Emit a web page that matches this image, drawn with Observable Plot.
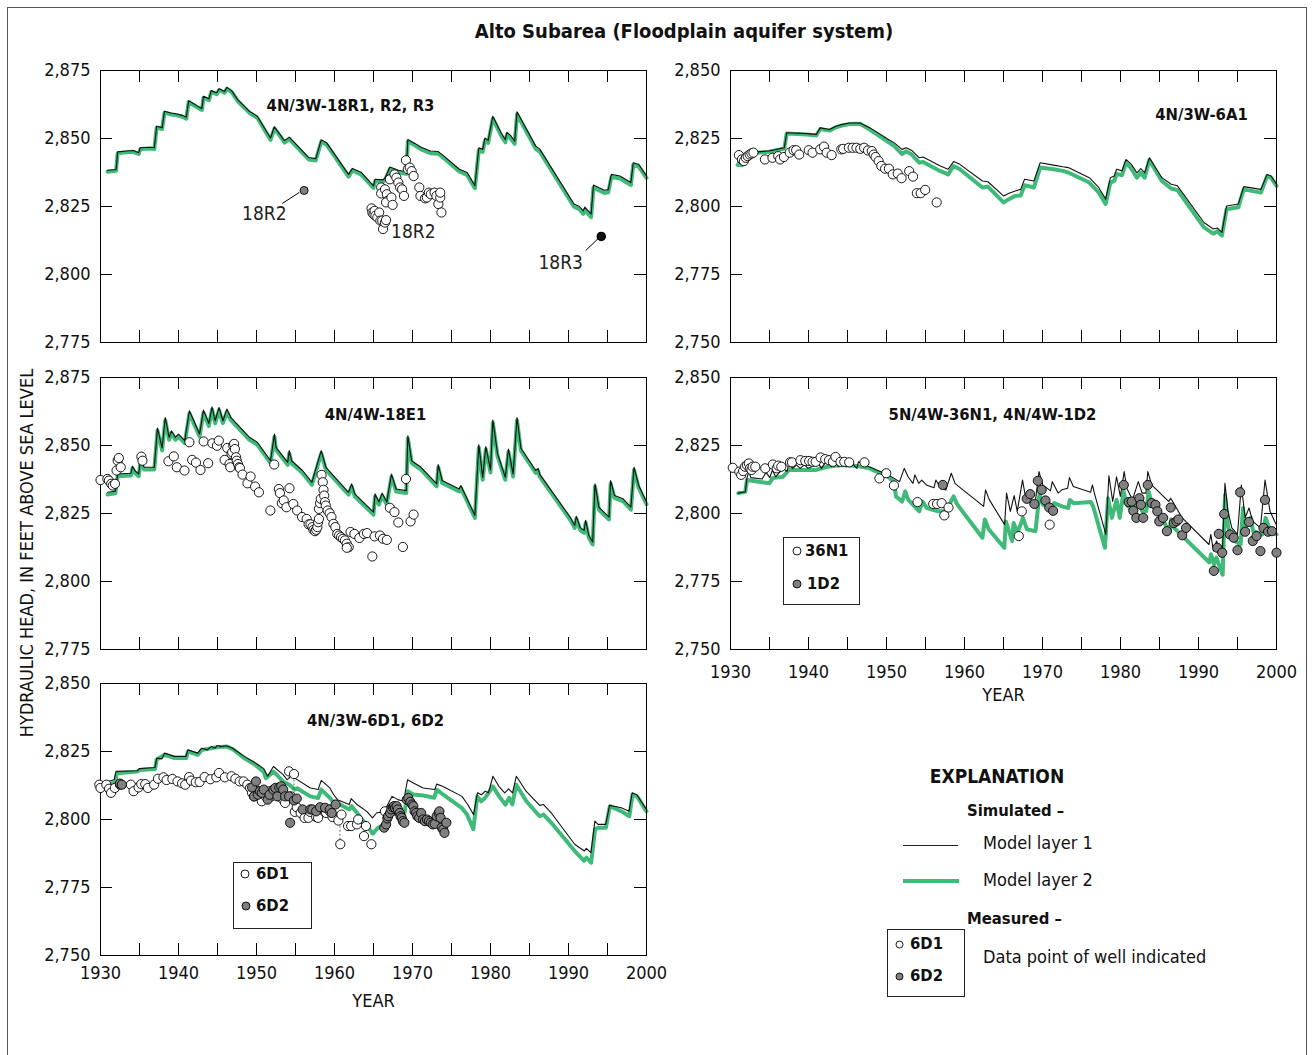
<!DOCTYPE html>
<html><head><meta charset="utf-8">
<script src="https://cdn.jsdelivr.net/npm/d3@7"></script>
<script src="https://cdn.jsdelivr.net/npm/@observablehq/plot@0.6"></script>
<style>
body{margin:0;background:#fff;}
#fig{position:relative;width:1312px;height:1055px;overflow:hidden;background:#fff;}
.abs{position:absolute;white-space:nowrap;line-height:1;}
svg{overflow:visible;}
</style></head><body><div id="fig"></div><script>
const FONT = '"Liberation Sans Narrow","Arial Narrow","DejaVu Sans Condensed",sans-serif';
const GREEN = "#3fba78";
const GRAYFILL = "#808080";

// ---------- axis ticks ----------
const xMajorTicks = [1930,1935,1940,1945,1950,1955,1960,1965,1970,1975,1980,1985,1990,1995,2000];
const xTickLabels = [1930,1940,1950,1960,1970,1980,1990,2000];
const yTicksHigh = [2775,2800,2825,2850,2875];
const yTicksLow = [2750,2775,2800,2825,2850];

// ---------- panel 1: 4N/3W-18R1, R2, R3 ----------
const p1Layer1 = [[1930.9,2838.3],[1932.0,2838.6],[1932.2,2845.1],[1933.3,2845.4],[1934.2,2845.6],[1934.9,2844.8],[1935.1,2846.6],[1936.4,2846.8],[1936.9,2846.6],[1937.2,2854.5],[1937.9,2854.0],[1938.2,2860.0],[1939.0,2859.4],[1939.8,2859.0],[1940.5,2858.5],[1941.0,2857.8],[1941.3,2863.9],[1942.5,2861.8],[1943.0,2861.0],[1943.2,2865.5],[1943.9,2864.6],[1944.2,2867.6],[1944.9,2866.8],[1945.2,2868.3],[1945.9,2867.3],[1946.2,2868.8],[1946.8,2867.6],[1947.6,2864.3],[1949.1,2860.0],[1950.1,2858.2],[1951.8,2850.2],[1952.3,2854.3],[1953.6,2849.2],[1954.2,2850.5],[1956.7,2843.0],[1957.6,2842.6],[1958.3,2849.5],[1959.0,2848.4],[1961.8,2836.8],[1962.3,2839.0],[1963.4,2837.6],[1965.0,2832.6],[1965.2,2835.0],[1966.2,2834.8],[1966.5,2835.6],[1967.1,2839.5],[1968.2,2838.3],[1969.2,2837.8],[1969.4,2849.6],[1970.3,2848.2],[1971.1,2846.8],[1972.3,2845.4],[1973.3,2845.2],[1974.0,2843.6],[1976.0,2838.7],[1977.0,2837.5],[1978.0,2832.6],[1978.5,2846.6],[1979.0,2846.0],[1979.3,2850.2],[1979.7,2849.3],[1980.3,2858.2],[1981.3,2852.4],[1981.9,2849.6],[1982.1,2852.3],[1982.6,2851.0],[1983.1,2849.0],[1983.4,2859.8],[1985.8,2847.2],[1986.3,2846.2],[1990.7,2825.9],[1991.4,2825.0],[1991.9,2823.4],[1992.1,2824.8],[1992.9,2822.2],[1993.2,2832.9],[1994.6,2831.0],[1995.1,2831.2],[1995.5,2836.8],[1996.6,2836.2],[1998.0,2833.8],[1998.3,2841.1],[1999.0,2840.5],[2000,2836.2]];
const p1Layer2 = [[1930.9,2837.8],[1932.0,2838.1],[1932.2,2844.6],[1933.3,2844.9],[1934.2,2845.1],[1934.9,2844.3],[1935.1,2846.1],[1936.4,2846.3],[1936.9,2846.1],[1937.2,2854.0],[1937.9,2853.5],[1938.2,2859.5],[1939.0,2858.9],[1939.8,2858.5],[1940.5,2858.0],[1941.0,2857.3],[1941.3,2863.4],[1942.5,2861.3],[1943.0,2860.5],[1943.2,2865.0],[1943.9,2864.1],[1944.2,2867.1],[1944.9,2866.3],[1945.2,2867.8],[1945.9,2866.8],[1946.2,2868.3],[1946.8,2867.1],[1947.6,2863.7],[1949.1,2859.4],[1950.1,2857.6],[1951.8,2849.5],[1952.3,2853.7],[1953.6,2848.5],[1954.2,2849.8],[1956.7,2842.3],[1957.6,2841.9],[1958.3,2848.9],[1959.0,2847.7],[1961.8,2836.0],[1962.3,2838.3],[1963.4,2836.8],[1965.0,2831.8],[1965.2,2834.3],[1966.2,2834.0],[1966.5,2834.8],[1967.1,2838.8],[1968.2,2837.5],[1969.2,2837.0],[1969.4,2848.9],[1970.3,2847.5],[1971.1,2846.0],[1972.3,2844.6],[1973.3,2844.4],[1974.0,2842.8],[1976.0,2837.9],[1977.0,2836.6],[1978.0,2831.7],[1978.5,2845.7],[1979.0,2845.1],[1979.3,2849.3],[1979.7,2848.4],[1980.3,2857.3],[1981.3,2851.4],[1981.9,2848.6],[1982.1,2851.4],[1982.6,2850.0],[1983.1,2848.0],[1983.4,2858.9],[1985.8,2846.2],[1986.3,2845.2],[1990.7,2824.9],[1991.4,2824.0],[1991.9,2822.3],[1992.1,2823.8],[1992.9,2821.1],[1993.2,2831.9],[1994.6,2830.0],[1995.1,2830.2],[1995.5,2835.9],[1996.6,2835.3],[1998.0,2832.9],[1998.3,2840.3],[1999.0,2839.7],[2000,2835.5]];
const p1Open18R2 = [[1964.75,2824.3],[1964.85,2822.8],[1965.0,2822.2],[1965.14,2823.4],[1965.24,2821.6],[1965.49,2821.0],[1965.73,2822.8],[1965.88,2819.8],[1966.12,2819.8],[1966.22,2816.7],[1966.47,2819.1],[1966.61,2820.0],[1965.98,2832.0],[1965.98,2829.8],[1966.47,2831.3],[1966.71,2829.5],[1966.81,2827.1],[1966.61,2826.5],[1967.1,2835.0],[1967.3,2828.3],[1967.45,2825.6],[1967.69,2836.8],[1967.93,2835.6],[1968.18,2833.8],[1968.42,2832.0],[1968.67,2831.3],[1968.91,2828.9],[1969.16,2842.0],[1969.4,2838.7],[1969.65,2839.3],[1969.89,2838.0],[1970.14,2836.2],[1970.87,2832.0],[1971.02,2828.9],[1971.61,2828.0],[1971.85,2828.3],[1972.1,2830.1],[1972.34,2829.5],[1972.83,2830.1],[1973.07,2828.9],[1973.32,2825.9],[1973.56,2828.3],[1973.71,2822.8],[1973.56,2830.1]];
const p1Gray18R2 = [[1956.1,2830.9]];
const p1Black18R3 = [[1994.2,2814.0]];
const p1Labels = [{label:"18R2",year:1951.0,head:2822.1},{label:"18R2",year:1970.1,head:2815.8},{label:"18R3",year:1989.0,head:2804.4}];
const p1Leaders = [{x1:1953.3,y1:2826.1,x2:1955.5,y2:2830.2},{x1:1992.2,y1:2808.8,x2:1993.8,y2:2813.2}];

// ---------- panel 2: 4N/3W-6A1 ----------
const p2Layer1 = [[1930.9,2816.3],[1931.5,2816.1],[1932.0,2819.8],[1934.9,2820.4],[1935.4,2820.7],[1936.9,2821.6],[1937.2,2827.1],[1939.8,2826.8],[1941.0,2826.5],[1941.5,2828.9],[1942.7,2828.3],[1943.5,2829.5],[1944.2,2830.1],[1945.2,2830.7],[1946.6,2830.7],[1947.9,2828.9],[1950.1,2824.9],[1951.0,2823.4],[1952.0,2821.0],[1952.5,2821.6],[1953.2,2820.7],[1954.2,2817.9],[1954.7,2818.2],[1956.9,2814.9],[1957.9,2813.7],[1958.6,2816.5],[1959.4,2815.5],[1962.3,2809.4],[1963.0,2809.1],[1965.0,2803.9],[1965.7,2804.9],[1966.5,2805.7],[1967.2,2806.3],[1967.7,2810.0],[1968.9,2809.4],[1969.7,2816.1],[1971.4,2815.2],[1972.6,2814.6],[1973.3,2814.3],[1976.0,2810.6],[1977.2,2807.0],[1978.1,2802.7],[1978.7,2810.6],[1979.2,2811.2],[1979.5,2813.7],[1980.2,2813.1],[1980.7,2817.3],[1981.4,2815.5],[1982.1,2812.4],[1982.6,2813.9],[1983.1,2812.4],[1983.7,2817.9],[1985.3,2810.6],[1986.5,2808.2],[1987.3,2807.6],[1990.7,2794.1],[1991.9,2791.7],[1992.4,2792.1],[1993.0,2790.5],[1993.6,2800.2],[1995.1,2800.9],[1995.8,2807.3],[1998.0,2806.3],[1998.8,2811.8],[1999.3,2811.2],[2000,2808.2]];
const p2Layer2 = [[1930.9,2815.3],[1931.5,2815.2],[1932.0,2819.5],[1934.9,2820.1],[1935.4,2820.4],[1936.9,2821.3],[1937.2,2826.8],[1939.8,2826.5],[1941.0,2826.1],[1941.5,2828.5],[1942.7,2827.9],[1943.5,2829.1],[1944.2,2829.7],[1945.2,2830.3],[1946.6,2830.4],[1947.9,2828.2],[1950.1,2824.0],[1951.0,2822.2],[1952.0,2819.3],[1952.5,2820.3],[1953.2,2819.2],[1954.2,2816.1],[1954.7,2816.4],[1956.9,2813.0],[1957.9,2811.8],[1958.6,2814.9],[1959.4,2813.7],[1962.3,2807.0],[1963.0,2807.3],[1965.0,2801.5],[1965.7,2802.7],[1966.5,2803.9],[1967.2,2804.0],[1967.7,2807.8],[1968.9,2807.0],[1969.7,2814.3],[1971.4,2813.7],[1972.6,2813.1],[1973.3,2812.5],[1976.0,2808.8],[1977.2,2805.2],[1978.1,2800.9],[1978.7,2808.8],[1979.2,2809.4],[1979.5,2812.0],[1980.2,2811.5],[1980.7,2816.1],[1981.4,2813.9],[1982.1,2810.6],[1982.6,2812.4],[1983.1,2810.6],[1983.7,2817.1],[1985.3,2809.4],[1986.5,2806.6],[1987.3,2806.0],[1990.7,2792.3],[1991.9,2790.0],[1992.4,2790.9],[1993.0,2789.3],[1993.6,2799.0],[1995.1,2799.7],[1995.8,2806.3],[1998.0,2805.1],[1998.8,2811.2],[1999.3,2810.6],[2000,2807.6]];
const p2Open6A1 = [[1931.08,2818.9],[1931.47,2817.3],[1931.71,2816.7],[1931.96,2817.9],[1932.2,2818.5],[1932.45,2819.1],[1932.69,2819.5],[1932.94,2819.8],[1934.41,2817.3],[1935.38,2817.9],[1936.12,2818.5],[1936.36,2817.3],[1936.85,2818.2],[1937.59,2819.8],[1938.08,2820.7],[1938.42,2820.7],[1938.81,2819.1],[1940.03,2820.7],[1940.52,2819.8],[1941.5,2821.0],[1941.99,2822.0],[1942.33,2819.8],[1942.97,2818.9],[1944.2,2821.0],[1944.44,2821.2],[1945.17,2821.6],[1945.66,2821.6],[1946.15,2821.6],[1946.64,2821.2],[1947.13,2821.6],[1947.62,2820.6],[1948.11,2820.4],[1948.36,2819.1],[1948.6,2818.2],[1948.99,2816.7],[1949.33,2814.9],[1949.82,2813.9],[1950.31,2813.9],[1950.8,2811.8],[1951.44,2812.1],[1951.93,2810.4],[1952.91,2813.0],[1953.4,2811.0],[1953.89,2804.9],[1954.38,2804.9],[1954.96,2806.1],[1956.43,2801.5]];

// ---------- panel 3: 4N/4W-18E1 ----------
const p3Layer1 = [[1930.9,2832.8],[1931.9,2833.2],[1932.2,2839.5],[1933.9,2839.8],[1934.1,2842.4],[1934.4,2840.8],[1934.9,2839.5],[1935.1,2844.4],[1935.6,2842.0],[1936.9,2842.0],[1937.3,2856.4],[1937.9,2849.1],[1938.3,2860.3],[1938.8,2853.0],[1939.1,2855.4],[1939.6,2853.0],[1940.0,2854.2],[1940.8,2851.8],[1941.4,2862.8],[1942.7,2854.2],[1943.2,2863.0],[1943.9,2858.1],[1944.3,2864.2],[1944.7,2859.1],[1945.2,2864.0],[1945.7,2859.1],[1946.2,2863.4],[1946.7,2860.3],[1949.1,2853.0],[1950.1,2851.2],[1951.8,2844.4],[1952.3,2854.2],[1952.5,2849.3],[1954.0,2843.8],[1954.2,2848.1],[1954.5,2844.4],[1955.9,2840.8],[1957.1,2836.5],[1958.3,2848.1],[1958.9,2842.0],[1961.8,2832.8],[1962.2,2835.9],[1962.6,2832.2],[1965.0,2825.5],[1965.2,2832.2],[1965.7,2829.2],[1966.1,2832.5],[1966.7,2829.2],[1967.3,2839.5],[1967.9,2834.0],[1969.2,2833.4],[1969.4,2853.6],[1969.9,2844.4],[1971.1,2842.0],[1973.1,2835.9],[1973.3,2843.0],[1973.8,2837.1],[1976.0,2834.0],[1976.2,2835.3],[1978.0,2824.3],[1978.5,2850.3],[1979.0,2838.3],[1979.4,2849.6],[1980.0,2841.0],[1980.3,2859.4],[1980.9,2847.0],[1981.9,2838.3],[1982.3,2848.7],[1982.9,2839.5],[1983.4,2860.3],[1983.9,2849.0],[1985.8,2840.8],[1986.1,2841.6],[1986.3,2839.5],[1990.2,2823.7],[1990.8,2820.6],[1991.0,2824.0],[1991.5,2819.8],[1992.0,2818.8],[1992.2,2822.5],[1992.6,2817.0],[1993.1,2814.5],[1993.4,2835.9],[1993.9,2827.3],[1995.2,2823.7],[1995.4,2837.1],[1995.9,2831.6],[1997.0,2830.4],[1998.0,2827.3],[1998.4,2842.0],[1999.0,2835.3],[2000,2829.2]];
const p3Layer2 = [[1930.9,2832.0],[1931.9,2832.4],[1932.2,2838.7],[1933.9,2839.0],[1934.1,2841.6],[1934.4,2840.0],[1934.9,2838.7],[1935.1,2843.6],[1935.6,2841.2],[1936.9,2841.2],[1937.3,2855.5],[1937.9,2848.2],[1938.3,2859.3],[1938.8,2852.1],[1939.1,2854.5],[1939.6,2852.1],[1940.0,2853.3],[1940.8,2850.9],[1941.4,2861.8],[1942.7,2853.3],[1943.2,2862.0],[1943.9,2857.2],[1944.3,2863.2],[1944.7,2858.2],[1945.2,2863.0],[1945.7,2858.2],[1946.2,2862.4],[1946.7,2859.4],[1949.1,2852.1],[1950.1,2850.3],[1951.8,2843.5],[1952.3,2853.2],[1952.5,2848.4],[1954.0,2842.9],[1954.2,2847.1],[1954.5,2843.5],[1955.9,2839.9],[1957.1,2835.6],[1958.3,2847.1],[1958.9,2841.1],[1961.8,2831.9],[1962.2,2834.9],[1962.6,2831.3],[1965.0,2824.6],[1965.2,2831.2],[1965.7,2828.3],[1966.1,2831.5],[1966.7,2828.3],[1967.3,2838.5],[1967.9,2833.1],[1969.2,2832.5],[1969.4,2852.6],[1969.9,2843.5],[1971.1,2841.1],[1973.1,2835.0],[1973.3,2842.0],[1973.8,2836.2],[1976.0,2833.1],[1976.2,2834.4],[1978.0,2823.4],[1978.5,2849.3],[1979.0,2837.4],[1979.4,2848.6],[1980.0,2840.1],[1980.3,2858.4],[1980.9,2846.1],[1981.9,2837.4],[1982.3,2847.7],[1982.9,2838.6],[1983.4,2859.3],[1983.9,2848.1],[1985.8,2839.9],[1986.1,2840.7],[1986.3,2838.6],[1990.2,2822.8],[1990.8,2819.7],[1991.0,2823.1],[1991.5,2818.9],[1992.0,2817.9],[1992.2,2821.6],[1992.6,2816.1],[1993.1,2813.6],[1993.4,2834.9],[1993.9,2826.4],[1995.2,2822.8],[1995.4,2836.1],[1995.9,2830.7],[1997.0,2829.5],[1998.0,2826.4],[1998.4,2841.0],[1999.0,2834.4],[2000,2828.4]];
const p3Open18E1 = [[1930.0,2837.3],[1930.88,2837.7],[1931.08,2837.1],[1931.37,2835.9],[1931.57,2835.3],[1931.86,2835.9],[1932.06,2840.8],[1932.2,2844.4],[1932.35,2845.4],[1932.59,2842.0],[1935.24,2845.9],[1935.38,2844.4],[1938.71,2844.2],[1939.4,2846.0],[1939.79,2842.0],[1940.77,2840.8],[1941.4,2851.2],[1941.75,2844.7],[1942.24,2843.7],[1942.82,2841.0],[1943.22,2851.5],[1943.8,2843.5],[1944.34,2850.8],[1944.93,2849.9],[1945.17,2851.8],[1945.91,2844.7],[1946.25,2849.1],[1946.54,2843.2],[1946.64,2842.0],[1946.79,2846.9],[1946.89,2847.5],[1947.03,2849.9],[1947.13,2850.6],[1947.23,2848.7],[1947.38,2845.7],[1947.47,2844.4],[1947.62,2843.2],[1947.77,2842.0],[1947.87,2841.7],[1948.21,2839.3],[1948.84,2836.1],[1949.24,2838.6],[1949.82,2834.9],[1950.31,2832.8],[1951.78,2826.1],[1952.27,2843.0],[1952.86,2834.0],[1953.0,2832.5],[1953.25,2828.8],[1953.49,2829.8],[1953.84,2827.3],[1954.23,2834.3],[1954.72,2828.5],[1955.21,2826.1],[1955.84,2823.7],[1956.43,2823.0],[1956.68,2821.0],[1956.92,2821.0],[1957.17,2820.0],[1957.31,2819.0],[1957.51,2818.5],[1957.66,2819.0],[1957.8,2820.0],[1957.9,2821.8],[1958.0,2823.0],[1958.0,2826.7],[1958.15,2828.8],[1958.24,2830.4],[1958.34,2839.2],[1958.49,2836.5],[1958.59,2833.7],[1958.68,2831.6],[1958.78,2829.2],[1958.88,2827.9],[1959.12,2826.1],[1959.37,2825.1],[1959.61,2823.7],[1959.86,2821.2],[1960.1,2820.0],[1960.35,2817.5],[1960.59,2816.9],[1960.84,2816.3],[1961.08,2815.7],[1961.33,2815.1],[1961.57,2813.9],[1961.82,2812.6],[1961.57,2812.4],[1962.06,2818.2],[1962.55,2817.5],[1963.19,2816.0],[1963.77,2817.5],[1964.17,2817.8],[1964.85,2809.2],[1965.14,2816.6],[1965.83,2816.9],[1966.22,2815.7],[1966.71,2815.3],[1967.1,2827.1],[1967.69,2825.5],[1968.18,2821.7],[1968.77,2812.7],[1969.16,2837.7],[1969.75,2822.1],[1970.14,2824.6]];

// ---------- panel 4: 5N/4W-36N1, 4N/4W-1D2 ----------
const p4Layer1 = [[1931.0,2807.5],[1931.9,2808.0],[1932.1,2812.9],[1932.35,2815.4],[1932.6,2813.2],[1934.06,2812.7],[1934.55,2815.1],[1935.04,2813.2],[1935.38,2816.0],[1935.78,2813.5],[1936.75,2816.6],[1937.24,2815.4],[1937.49,2818.4],[1937.98,2816.6],[1938.47,2817.8],[1938.96,2816.6],[1939.45,2818.0],[1939.94,2816.6],[1940.92,2817.8],[1941.16,2819.0],[1941.65,2816.6],[1942.38,2819.6],[1942.97,2817.2],[1943.46,2819.6],[1943.85,2817.2],[1944.34,2819.0],[1944.83,2817.2],[1945.32,2819.3],[1946.2,2816.6],[1946.4,2819.0],[1947.77,2817.2],[1948.5,2816.3],[1949.73,2814.8],[1950.22,2814.2],[1951.68,2811.7],[1952.27,2816.6],[1952.76,2813.5],[1953.4,2811.1],[1953.64,2814.2],[1954.13,2811.1],[1954.52,2812.3],[1955.11,2810.5],[1956.09,2809.5],[1956.33,2812.3],[1956.82,2809.9],[1957.6,2808.6],[1958.3,2814.8],[1958.8,2811.0],[1962.45,2802.6],[1962.7,2808.7],[1963.19,2805.0],[1965.14,2795.9],[1965.39,2807.5],[1965.88,2800.8],[1966.37,2806.6],[1966.76,2800.8],[1967.44,2812.3],[1967.93,2804.4],[1969.06,2803.8],[1969.55,2815.4],[1970.04,2810.5],[1971.02,2808.3],[1971.26,2811.7],[1972.0,2807.5],[1972.49,2808.7],[1973.22,2809.3],[1973.46,2813.2],[1973.95,2809.9],[1976.16,2807.8],[1976.4,2810.5],[1976.65,2807.5],[1978.12,2792.3],[1978.51,2813.9],[1979.0,2804.4],[1979.49,2813.5],[1979.98,2806.3],[1980.47,2815.4],[1980.81,2809.3],[1981.54,2805.0],[1982.28,2811.7],[1982.77,2807.5],[1983.26,2807.5],[1983.5,2815.4],[1983.99,2810.5],[1986.19,2804.4],[1986.44,2805.6],[1986.93,2803.2],[1987.91,2798.4],[1991.34,2788.6],[1991.58,2792.3],[1991.92,2786.2],[1992.31,2789.9],[1993.04,2783.8],[1993.39,2811.1],[1993.78,2800.8],[1994.27,2794.7],[1995.0,2792.3],[1995.49,2810.5],[1995.98,2798.4],[1996.47,2802.0],[1996.96,2797.1],[1997.94,2794.7],[1998.53,2812.3],[1999.17,2800.8],[2000,2795.7]];
const p4Layer2 = [[1931.0,2807.5],[1931.9,2808.0],[1932.1,2812.3],[1935.0,2811.1],[1935.4,2813.0],[1936.7,2813.5],[1937.5,2816.0],[1940.9,2816.0],[1942.4,2817.2],[1944.3,2817.8],[1946.2,2817.5],[1947.8,2816.6],[1950.2,2813.5],[1951.0,2811.5],[1951.2,2806.3],[1952.0,2804.4],[1952.4,2808.1],[1952.8,2805.0],[1954.2,2800.8],[1954.6,2804.4],[1955.2,2802.0],[1956.6,2800.8],[1957.6,2800.8],[1958.6,2806.3],[1959.1,2803.2],[1962.3,2791.1],[1962.6,2797.8],[1963.1,2794.2],[1965.1,2787.4],[1965.3,2797.1],[1966.1,2789.9],[1966.3,2796.5],[1966.8,2793.0],[1967.5,2798.4],[1968.0,2794.2],[1969.1,2793.5],[1969.6,2806.9],[1970.1,2803.2],[1971.1,2802.0],[1971.5,2803.8],[1972.5,2802.6],[1973.3,2802.0],[1973.5,2805.0],[1974.0,2803.8],[1976.2,2804.2],[1976.5,2802.6],[1978.0,2787.4],[1978.4,2805.6],[1978.9,2798.4],[1979.5,2805.0],[1979.9,2798.4],[1980.4,2808.1],[1980.8,2803.2],[1981.6,2800.8],[1982.3,2805.0],[1982.8,2800.8],[1983.3,2800.8],[1983.6,2808.1],[1984.1,2803.2],[1986.3,2793.5],[1986.5,2797.8],[1986.9,2794.6],[1991.4,2782.0],[1991.6,2785.0],[1992.0,2781.3],[1992.3,2783.8],[1993.1,2777.5],[1993.4,2806.9],[1993.8,2795.0],[1994.3,2790.5],[1995.4,2788.6],[1995.7,2802.0],[1996.0,2794.6],[1996.7,2798.4],[1997.0,2793.5],[1998.2,2792.3],[1998.6,2798.4],[1999.2,2793.5],[2000,2792.3]];
const p4Open36N1 = [[1930.29,2816.8],[1931.13,2815.4],[1931.37,2814.2],[1931.62,2815.6],[1931.86,2817.2],[1932.1,2817.8],[1932.35,2818.4],[1932.5,2816.6],[1932.69,2816.0],[1932.84,2817.2],[1933.18,2817.2],[1934.45,2816.6],[1935.43,2818.0],[1935.92,2816.6],[1936.12,2817.6],[1936.51,2817.2],[1937.64,2818.8],[1937.88,2818.8],[1938.96,2819.6],[1939.59,2819.3],[1940.08,2819.3],[1940.52,2819.0],[1940.92,2819.0],[1941.55,2820.6],[1942.14,2820.0],[1942.63,2819.6],[1943.12,2819.0],[1943.46,2820.8],[1944.1,2819.0],[1944.59,2819.0],[1945.22,2818.8],[1947.18,2818.8],[1949.09,2812.9],[1949.97,2814.8],[1950.95,2810.3],[1953.98,2804.2],[1955.99,2803.5],[1956.48,2803.5],[1957.07,2803.8],[1957.41,2799.3],[1957.95,2802.2],[1966.96,2791.7],[1967.35,2800.8],[1970.92,2795.9]];
const p4Gray1D2 = [[1957.22,2810.5],[1967.98,2805.4],[1968.42,2807.1],[1968.96,2803.5],[1969.4,2812.0],[1969.89,2808.7],[1970.38,2804.8],[1970.87,2802.2],[1971.36,2801.0],[1980.42,2810.5],[1981.05,2804.2],[1981.44,2804.4],[1981.64,2801.0],[1982.03,2798.4],[1982.42,2805.6],[1982.62,2803.2],[1982.91,2798.4],[1983.5,2810.5],[1983.99,2803.8],[1984.48,2803.2],[1984.72,2800.8],[1984.97,2797.1],[1985.46,2798.4],[1985.95,2793.5],[1986.44,2802.2],[1986.83,2796.5],[1987.17,2797.1],[1987.42,2797.8],[1987.91,2792.0],[1988.4,2794.7],[1991.97,2778.9],[1992.41,2787.4],[1992.61,2792.5],[1993.04,2785.6],[1993.29,2799.8],[1994.02,2792.3],[1994.51,2791.1],[1995.0,2786.5],[1995.34,2807.8],[1995.98,2793.3],[1996.47,2796.9],[1996.96,2789.9],[1997.45,2791.7],[1997.94,2786.2],[1998.33,2794.7],[1998.53,2805.0],[1998.92,2793.3],[1999.41,2793.5],[2000,2785.6]];

// ---------- panel 5: 4N/3W-6D1, 6D2 ----------
const p5Layer1 = [[1931.0,2814.0],[1931.74,2814.6],[1931.99,2817.7],[1934.73,2817.9],[1934.98,2818.7],[1936.98,2819.1],[1937.22,2822.6],[1937.87,2822.3],[1938.22,2824.4],[1939.47,2823.2],[1940.96,2823.2],[1941.21,2825.6],[1942.46,2824.4],[1942.95,2826.2],[1943.7,2825.6],[1944.2,2826.8],[1944.7,2826.2],[1944.95,2827.2],[1945.45,2826.8],[1946.19,2827.1],[1946.94,2826.2],[1948.44,2823.2],[1949.93,2820.7],[1950.93,2818.7],[1951.43,2815.9],[1952.17,2819.5],[1953.42,2816.5],[1953.92,2814.6],[1954.41,2815.9],[1954.91,2815.2],[1956.9,2811.6],[1957.9,2811.0],[1958.3,2814.4],[1959.4,2811.6],[1959.9,2809.1],[1960.39,2807.3],[1961.89,2805.5],[1962.14,2807.7],[1962.88,2805.5],[1964.13,2803.0],[1964.88,2800.6],[1965.38,2802.4],[1966.37,2803.0],[1967.37,2808.5],[1968.12,2807.3],[1968.86,2806.7],[1969.36,2814.6],[1970.11,2813.4],[1971.36,2811.6],[1972.85,2811.0],[1973.1,2813.0],[1973.85,2812.2],[1976.34,2808.5],[1977.08,2805.5],[1977.83,2801.8],[1978.33,2809.8],[1978.83,2809.1],[1979.33,2810.4],[1979.73,2809.8],[1980.32,2815.9],[1981.07,2812.2],[1981.82,2809.8],[1982.32,2811.3],[1982.82,2809.8],[1983.31,2815.9],[1984.56,2810.4],[1986.3,2805.2],[1986.8,2805.5],[1987.8,2802.4],[1990.79,2790.9],[1992.03,2788.4],[1992.28,2789.4],[1992.88,2787.8],[1993.38,2799.4],[1993.78,2798.2],[1994.77,2798.2],[1995.27,2805.2],[1996.77,2804.3],[1997.76,2803.0],[1998.16,2809.8],[1998.76,2809.1],[2000,2803.7]];
const p5Layer2 = [[1931.0,2812.8],[1931.9,2813.6],[1932.1,2817.0],[1934.7,2817.6],[1935.0,2818.2],[1937.0,2818.6],[1937.2,2822.0],[1938.2,2823.8],[1939.5,2822.6],[1941.0,2822.6],[1941.2,2825.0],[1942.5,2823.8],[1943.0,2825.6],[1944.2,2826.2],[1944.9,2826.6],[1946.2,2826.8],[1947.0,2825.8],[1948.4,2822.6],[1949.9,2820.0],[1950.9,2817.6],[1951.2,2815.2],[1952.2,2817.6],[1953.4,2814.0],[1954.2,2812.8],[1954.9,2811.0],[1955.2,2811.5],[1956.9,2808.5],[1957.9,2807.9],[1958.3,2811.0],[1959.4,2808.0],[1959.9,2806.1],[1960.7,2805.5],[1961.9,2803.7],[1962.2,2804.9],[1962.9,2802.4],[1964.2,2797.6],[1964.9,2794.8],[1965.6,2797.0],[1966.4,2798.2],[1967.4,2802.4],[1968.1,2801.8],[1968.9,2801.2],[1969.4,2810.4],[1970.1,2809.2],[1971.4,2808.8],[1972.8,2808.0],[1973.1,2811.0],[1973.9,2809.2],[1976.3,2804.3],[1977.0,2801.8],[1977.8,2796.4],[1978.3,2808.5],[1978.8,2806.7],[1979.3,2807.9],[1980.3,2812.2],[1981.1,2808.5],[1981.9,2805.5],[1982.4,2808.0],[1982.8,2805.5],[1983.3,2812.8],[1984.6,2806.7],[1986.3,2801.2],[1986.8,2801.8],[1987.8,2798.8],[1990.8,2788.4],[1992.0,2784.8],[1992.3,2786.0],[1992.9,2784.1],[1993.4,2796.3],[1993.8,2797.0],[1994.8,2797.0],[1995.3,2804.9],[1996.8,2803.0],[1997.8,2801.2],[1998.2,2809.1],[1998.8,2808.5],[2000,2803.0]];
const p5Open6D1 = [[1929.85,2812.8],[1930.0,2811.6],[1930.75,2812.8],[1931.1,2811.3],[1931.35,2809.8],[1931.84,2811.6],[1932.49,2812.8],[1933.89,2812.8],[1934.24,2810.4],[1934.88,2811.8],[1935.23,2813.0],[1935.73,2813.0],[1936.08,2811.6],[1936.88,2812.8],[1937.37,2815.0],[1938.07,2815.5],[1938.47,2814.5],[1939.22,2814.9],[1939.87,2814.0],[1940.46,2813.3],[1940.86,2812.8],[1941.36,2815.6],[1941.61,2814.3],[1942.21,2813.7],[1942.71,2813.8],[1943.35,2815.6],[1944.1,2814.8],[1944.85,2815.5],[1945.2,2817.1],[1945.94,2815.5],[1946.79,2815.9],[1947.29,2815.0],[1947.84,2814.0],[1948.34,2814.0],[1948.83,2812.8],[1949.18,2811.6],[1949.43,2809.8],[1949.68,2808.5],[1950.18,2810.4],[1950.68,2806.7],[1951.18,2808.5],[1951.67,2810.4],[1951.92,2808.5],[1952.42,2809.1],[1952.92,2808.5],[1953.42,2807.3],[1953.67,2806.1],[1954.17,2817.7],[1954.41,2808.5],[1954.81,2816.7],[1954.91,2802.8],[1955.16,2804.5],[1955.66,2802.4],[1956.16,2800.6],[1956.66,2800.6],[1956.9,2802.8],[1957.65,2800.9],[1957.9,2800.6],[1958.93,2802.4],[1959.4,2803.0],[1959.75,2800.9],[1960.5,2799.6],[1960.74,2790.9],[1960.89,2801.8],[1961.74,2797.6],[1962.14,2797.6],[1962.88,2798.2],[1963.03,2800.0],[1963.78,2793.9],[1964.03,2797.6],[1964.73,2790.9],[1966.47,2803.0]];
const p5Gray6D2 = [[1932.49,2813.2],[1932.74,2812.8],[1949.43,2811.8],[1949.93,2814.0],[1949.68,2808.5],[1950.18,2809.1],[1950.43,2810.4],[1950.68,2809.8],[1950.93,2811.0],[1951.43,2807.3],[1951.67,2809.1],[1952.17,2811.0],[1952.42,2811.6],[1952.67,2808.5],[1952.92,2811.8],[1953.17,2812.2],[1953.42,2811.0],[1953.67,2808.5],[1954.17,2808.5],[1954.31,2798.8],[1954.81,2807.0],[1955.16,2807.7],[1955.91,2803.7],[1956.9,2803.7],[1957.15,2803.7],[1957.65,2803.0],[1958.15,2804.5],[1958.8,2804.3],[1959.4,2803.7],[1959.65,2802.4],[1960.14,2805.5],[1966.37,2797.0],[1966.62,2798.2],[1966.77,2800.4],[1966.87,2801.2],[1967.12,2802.4],[1967.27,2803.7],[1967.47,2804.5],[1967.62,2804.9],[1967.77,2804.3],[1967.97,2804.9],[1968.12,2803.7],[1968.37,2802.4],[1968.47,2801.2],[1968.62,2800.6],[1968.76,2799.4],[1968.96,2798.8],[1969.26,2807.3],[1969.46,2807.9],[1969.71,2806.5],[1969.96,2805.5],[1970.11,2804.9],[1970.26,2803.0],[1970.46,2802.4],[1970.61,2801.2],[1970.86,2800.6],[1971.11,2802.4],[1971.36,2800.0],[1971.6,2799.4],[1971.85,2800.0],[1972.1,2799.4],[1972.35,2798.8],[1972.6,2798.2],[1972.85,2798.4],[1973.1,2801.2],[1973.35,2802.4],[1973.45,2803.0],[1973.6,2800.6],[1973.75,2797.0],[1973.95,2796.3],[1974.1,2795.1],[1974.34,2798.8]];
const p5Connectors = [{year:1954.8,from:2816.0,to:2807.5},{year:1960.7,from:2799.0,to:2791.5}];

// ---------- build ----------
const fig = document.getElementById("fig");
const PW = 546, PH = 272;
const X = d => d[0], Y = d => d[1];

function addDiv(html, css) {
  const d = document.createElement("div");
  d.className = "abs";
  d.innerHTML = html;
  Object.assign(d.style, css);
  fig.appendChild(d);
  return d;
}

function panel(o) {
  const mb = o.xLabels ? 60 : 10;
  const marks = [
    Plot.line(o.l2, {x: X, y: Y, stroke: GREEN, strokeWidth: 4, strokeLinejoin: "round"}),
    Plot.line(o.l1, {x: X, y: Y, stroke: "#111", strokeWidth: 1.1, strokeLinejoin: "round"}),
    Plot.frame({stroke: "#000", strokeWidth: 1}),
    Plot.tickY(o.yTicks, {y: d => d, insetRight: PW - 12, stroke: "#000"}),
    Plot.tickY(o.yTicks, {y: d => d, insetLeft: PW - 12, stroke: "#000"}),
    Plot.tickX(xMajorTicks, {x: d => d, insetBottom: PH - 12, stroke: "#000"}),
    Plot.tickX(xMajorTicks, {x: d => d, insetTop: PH - 12, stroke: "#000"}),
    Plot.axisY(o.yTicks, {tickSize: 0, tickPadding: 10, tickFormat: d3.format(","), label: null}),
    Plot.text([o.title], {frameAnchor: "top", dx: o.tdx, dy: o.tdy, fontWeight: "bold", fontSize: 16.5, fill: "#111"})
  ];
  if (o.xLabels) {
    marks.push(Plot.axisX(xTickLabels, {tickSize: 0, tickPadding: o.xPad, tickFormat: d3.format("d"), label: null}));
    marks.push(Plot.text(["YEAR"], {frameAnchor: "bottom", dy: o.yearDy, fontSize: 18, fill: "#111"}));
  }
  (o.extra || []).forEach(m => marks.push(m));
  const svg = Plot.plot({
    width: 60 + PW + 24, height: 10 + PH + mb,
    marginLeft: 60, marginRight: 24, marginTop: 10, marginBottom: mb,
    x: {domain: [1930, 2000], axis: null},
    y: {domain: o.yDomain, axis: null},
    style: {fontFamily: FONT, fontSize: "18px", color: "#111", background: "transparent", overflow: "visible"},
    marks
  });
  svg.style.position = "absolute";
  svg.style.left = o.left + "px";
  svg.style.top = o.top + "px";
  fig.appendChild(svg);
}

const openDot = (data, r = 4.6) => Plot.dot(data, {x: X, y: Y, r, fill: "white", stroke: "#000", strokeWidth: 0.9});
const grayDot = (data, r = 4.6) => Plot.dot(data, {x: X, y: Y, r, fill: GRAYFILL, stroke: "#000", strokeWidth: 0.9});

// panel 1
panel({left: 40, top: 60, yDomain: [2775, 2875], yTicks: yTicksHigh, l1: p1Layer1, l2: p1Layer2,
  title: "4N/3W-18R1, R2, R3", tdx: -23, tdy: 29,
  extra: [
    openDot(p1Open18R2),
    grayDot(p1Gray18R2, 4),
    Plot.dot(p1Black18R3, {x: X, y: Y, r: 4, fill: "#111", stroke: "#000"}),
    Plot.link(p1Leaders, {x1: "x1", y1: "y1", x2: "x2", y2: "y2", stroke: "#000", strokeWidth: 1}),
    Plot.text(p1Labels, {x: "year", y: "head", text: "label", fontSize: 19, fill: "#222"})
  ]});

// panel 2
panel({left: 670, top: 60, yDomain: [2750, 2850], yTicks: yTicksLow, l1: p2Layer1, l2: p2Layer2,
  title: "4N/3W-6A1", tdx: 198, tdy: 38,
  extra: [openDot(p2Open6A1)]});

// panel 3
panel({left: 40, top: 367, yDomain: [2775, 2875], yTicks: yTicksHigh, l1: p3Layer1, l2: p3Layer2,
  title: "4N/4W-18E1", tdx: 2, tdy: 31,
  extra: [openDot(p3Open18E1)]});

// panel 4
panel({left: 670, top: 367, yDomain: [2750, 2850], yTicks: yTicksLow, l1: p4Layer1, l2: p4Layer2,
  title: "5N/4W-36N1, 4N/4W-1D2", tdx: -11, tdy: 31, xLabels: true, xPad: 16, yearDy: 51,
  extra: [openDot(p4Open36N1), grayDot(p4Gray1D2)]});

// panel 5
panel({left: 40, top: 673, yDomain: [2750, 2850], yTicks: yTicksLow, l1: p5Layer1, l2: p5Layer2,
  title: "4N/3W-6D1, 6D2", tdx: 2, tdy: 31, xLabels: true, xPad: 11, yearDy: 51,
  extra: [
    Plot.ruleX(p5Connectors, {x: "year", y1: "from", y2: "to", stroke: "#444", strokeWidth: 0.8, strokeDasharray: "2,2"}),
    openDot(p5Open6D1), grayDot(p5Gray6D2)
  ]});

// ---------- HTML text & legends ----------
addDiv("", {left: "7px", top: "7px", width: "1298px", height: "1070px", border: "1px solid #555"});
addDiv("Alto Subarea (Floodplain aquifer system)", {left: "684px", top: "31px", transform: "translate(-50%,-50%)",
  fontFamily: FONT, fontWeight: "bold", fontSize: "20px", color: "#111"});
addDiv("HYDRAULIC HEAD, IN FEET ABOVE SEA LEVEL", {left: "27px", top: "553px", fontFamily: FONT, fontSize: "18px", color: "#111",
  transform: "translate(-50%,-50%) rotate(-90deg)"});

function circleSvg(fill, r) {
  const s = 2 * r + 2;
  return `<svg width="${s}" height="${s}" style="display:block"><circle cx="${s/2}" cy="${s/2}" r="${r}" fill="${fill}" stroke="#000" stroke-width="0.9"/></svg>`;
}
function legendBox(x, y, w, h, items, r) {
  addDiv("", {left: x + "px", top: y + "px", width: w + "px", height: h + "px", border: "1px solid #222"});
  items.forEach(it => {
    addDiv(circleSvg(it.fill, r), {left: (it.cx - r - 1) + "px", top: (it.cy - r - 1) + "px"});
    addDiv(it.label, {left: it.tx + "px", top: it.cy + "px", transform: "translateY(-50%)", fontFamily: FONT, fontWeight: "bold", fontSize: "16.5px", color: "#111"});
  });
}
legendBox(783, 537, 75, 66, [{label: "36N1", fill: "white", cx: 797, cy: 551, tx: 805}, {label: "1D2", fill: GRAYFILL, cx: 797, cy: 584, tx: 807}], 4);
legendBox(233, 862, 77, 65, [{label: "6D1", fill: "white", cx: 245, cy: 874, tx: 256}, {label: "6D2", fill: GRAYFILL, cx: 246, cy: 906, tx: 256}], 4);
legendBox(887, 929, 76, 66, [{label: "6D1", fill: "white", cx: 899, cy: 944, tx: 910}, {label: "6D2", fill: GRAYFILL, cx: 899, cy: 976, tx: 910}], 3.5);

addDiv("EXPLANATION", {left: "997px", top: "776px", transform: "translate(-50%,-50%)", fontFamily: FONT, fontWeight: "bold", fontSize: "19px", color: "#111"});
addDiv("Simulated –", {left: "967px", top: "811px", transform: "translateY(-50%)", fontFamily: FONT, fontWeight: "bold", fontSize: "16.5px", color: "#111"});
addDiv("", {left: "903px", top: "845px", width: "55px", height: "0px", borderTop: "1px solid #222"});
addDiv("Model layer 1", {left: "983px", top: "843px", transform: "translateY(-50%)", fontFamily: FONT, fontSize: "18px", color: "#111"});
addDiv("", {left: "903px", top: "879px", width: "56px", height: "4px", background: GREEN});
addDiv("Model layer 2", {left: "983px", top: "880px", transform: "translateY(-50%)", fontFamily: FONT, fontSize: "18px", color: "#111"});
addDiv("Measured –", {left: "967px", top: "919px", transform: "translateY(-50%)", fontFamily: FONT, fontWeight: "bold", fontSize: "16.5px", color: "#111"});
addDiv("Data point of well indicated", {left: "983px", top: "957px", transform: "translateY(-50%)", fontFamily: FONT, fontSize: "18px", color: "#111"});
</script></body></html>
